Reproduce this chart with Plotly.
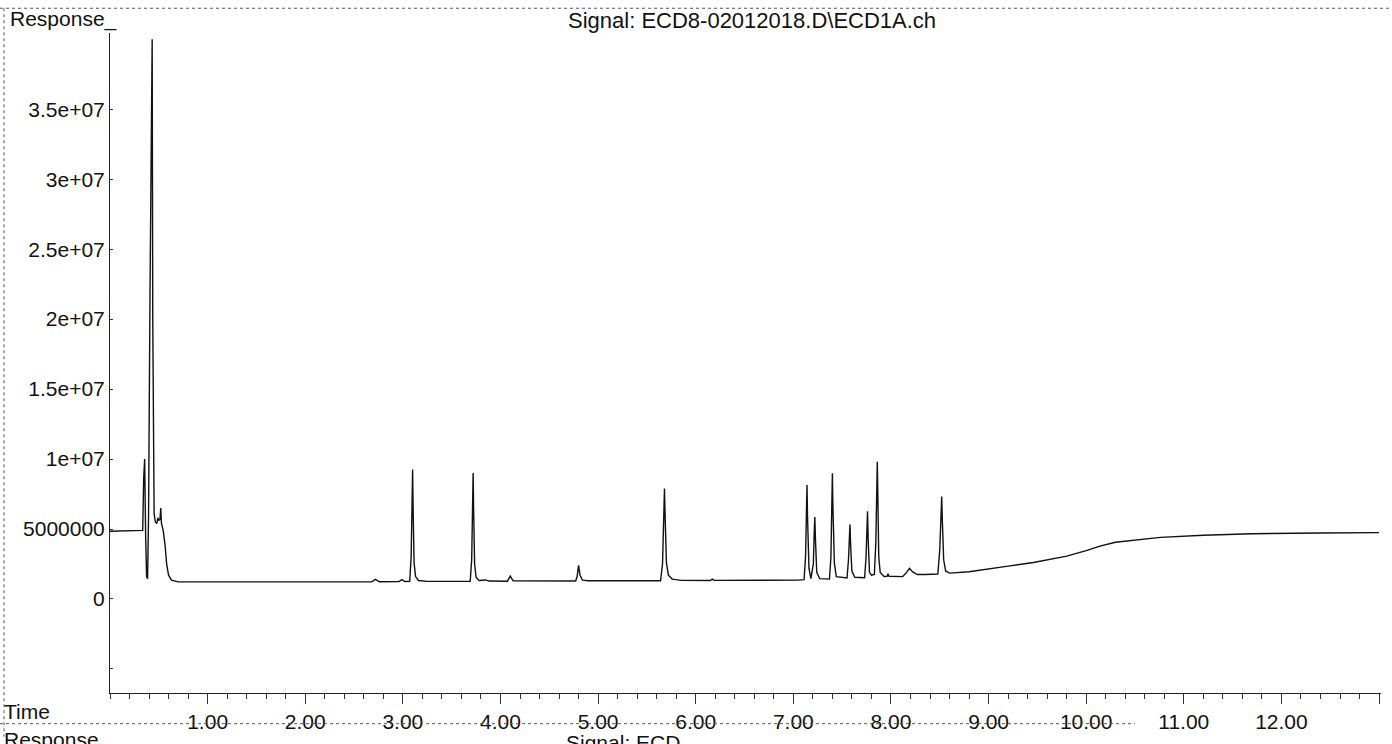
import plotly.graph_objects as go

# ECD chromatogram, signal ECD1A
time_min = [
    0.00, 0.20, 0.335, 0.345, 0.355, 0.365, 0.375, 0.385, 0.395, 0.41,
    0.425, 0.432, 0.438, 0.445, 0.452, 0.465, 0.48, 0.49, 0.50, 0.512,
    0.52, 0.527, 0.545, 0.565, 0.58, 0.60, 0.63, 0.70, 1.50, 2.00,
    2.68, 2.72, 2.76, 2.96, 2.99, 3.02,
    3.07, 3.085, 3.095, 3.10, 3.105, 3.115, 3.13, 3.16, 3.25,
    3.69, 3.705, 3.715, 3.72, 3.725, 3.735, 3.75, 3.78, 3.85, 3.88,
    4.07, 4.10, 4.13,
    4.77, 4.785, 4.80, 4.815, 4.84, 4.90,
    5.64, 5.66, 5.672, 5.68, 5.687, 5.70, 5.72, 5.76, 5.85,
    6.15, 6.17, 6.19, 7.05,
    7.11, 7.125, 7.135, 7.14, 7.145, 7.16, 7.18,
    7.205, 7.215, 7.22, 7.227, 7.24, 7.27,
    7.37, 7.385, 7.395, 7.40, 7.405, 7.42, 7.44,
    7.55, 7.565, 7.575, 7.58, 7.587, 7.60, 7.63,
    7.73, 7.745, 7.755, 7.76, 7.767, 7.78, 7.80,
    7.83, 7.845, 7.855, 7.86, 7.866, 7.875, 7.89, 7.93,
    7.96, 7.97, 7.98,
    8.12, 8.16, 8.19, 8.22, 8.27, 8.35,
    8.48, 8.50, 8.513, 8.52, 8.527, 8.54, 8.56, 8.60,
    8.80, 9.00, 9.20, 9.46, 9.80, 10.00, 10.14, 10.30, 10.50, 10.76,
    11.20, 11.70, 12.40, 13.00,
]
response = [
    4.84e6, 4.86e6, 4.9e6, 8.6e6, 1.0e7, 4.5e6, 1.6e6, 1.45e6, 6.0e6, 2.2e7,
    3.6e7, 4.0e7, 2.0e7, 8.0e6, 6.1e6, 5.5e6, 5.4e6, 5.8e6, 5.6e6, 5.7e6,
    6.5e6, 5.4e6, 4.9e6, 3.8e6, 2.5e6, 1.7e6, 1.35e6, 1.22e6, 1.2e6, 1.22e6,
    1.22e6, 1.4e6, 1.23e6, 1.24e6, 1.38e6, 1.25e6,
    1.26e6, 3.0e6, 7.5e6, 9.25e6, 6.5e6, 2.6e6, 1.6e6, 1.32e6, 1.26e6,
    1.26e6, 2.8e6, 7.0e6, 9.0e6, 6.3e6, 2.5e6, 1.55e6, 1.32e6, 1.36e6, 1.28e6,
    1.27e6, 1.63e6, 1.29e6,
    1.28e6, 1.6e6, 2.4e6, 1.7e6, 1.35e6, 1.3e6,
    1.3e6, 2.5e6, 6.0e6, 7.9e6, 5.8e6, 2.6e6, 1.7e6, 1.42e6, 1.33e6,
    1.32e6, 1.42e6, 1.33e6, 1.35e6,
    1.38e6, 3.0e6, 6.5e6, 8.14e6, 6.0e6, 2.2e6, 1.45e6,
    2.5e6, 5.0e6, 5.86e6, 4.2e6, 1.9e6, 1.45e6,
    1.42e6, 3.0e6, 7.0e6, 8.98e6, 6.8e6, 2.6e6, 1.6e6,
    1.5e6, 2.8e6, 4.8e6, 5.33e6, 3.8e6, 2.0e6, 1.55e6,
    1.52e6, 3.0e6, 5.5e6, 6.26e6, 4.2e6, 1.9e6, 1.7e6,
    1.75e6, 4.0e6, 8.0e6, 9.81e6, 7.2e6, 3.0e6, 1.9e6, 1.6e6,
    1.62e6, 1.8e6, 1.62e6,
    1.6e6, 1.9e6, 2.19e6, 1.95e6, 1.75e6, 1.75e6,
    1.78e6, 3.5e6, 6.5e6, 7.32e6, 5.5e6, 2.8e6, 2.0e6, 1.85e6,
    1.95e6, 2.17e6, 2.35e6, 2.61e6, 3.06e6, 3.45e6, 3.78e6, 4.05e6, 4.22e6, 4.40e6,
    4.55e6, 4.66e6, 4.72e6, 4.74e6,
]

x_tickvals = [1, 2, 3, 4, 5, 6, 7, 8, 9, 10, 11, 12, 13]
x_ticktext = ['1.00', '2.00', '3.00', '4.00', '5.00', '6.00', '7.00',
              '8.00', '9.00', '10.00', '11.00', '12.00', '']
y_tickvals = [-5e6, 0, 5e6, 1e7, 1.5e7, 2e7, 2.5e7, 3e7, 3.5e7]
y_ticktext = ['', '0', '5000000', '1e+07', '1.5e+07', '2e+07',
              '2.5e+07', '3e+07', '3.5e+07']

W, H = 1392, 744
L, R, T, B = 110, 11, 33, 44
FONT = 'Liberation Sans, Arial, sans-serif'


def px(x):
    return (x - L) / (W - L - R)


def py(y):
    return (H - B - y) / (H - T - B)


fig = go.Figure()
fig.add_trace(go.Scatter(
    x=time_min, y=response,
    mode='lines',
    line=dict(color='#111111', width=1.4),
    hoverinfo='x+y',
    showlegend=False,
))

fig.update_layout(
    width=W, height=H,
    margin=dict(l=L, r=R, t=T, b=B),
    paper_bgcolor='white',
    plot_bgcolor='white',
    font=dict(family=FONT, size=21, color='#111111'),
    xaxis=dict(
        range=[0, 13.02],
        tickvals=x_tickvals, ticktext=x_ticktext,
        ticks='outside', ticklen=10, tickcolor='#333333',
        minor=dict(dtick=0.2, tick0=0, ticks='outside', ticklen=5, tickcolor='#333333'),
        showline=True, linecolor='#222222', linewidth=1,
        showgrid=False, zeroline=False,
        tickfont=dict(size=21),
    ),
    yaxis=dict(
        range=[-6.72e6, 4.045e7],
        tickvals=y_tickvals, ticktext=y_ticktext,
        ticks='inside', ticklen=3, tickcolor='#333333',
        showline=True, linecolor='#222222', linewidth=1,
        showgrid=False, zeroline=False,
        tickfont=dict(size=21),
    ),
)

annos = [
    dict(text='Response_', x=px(8), y=py(19), xanchor='left', yanchor='middle'),
    dict(text='Signal: ECD8-02012018.D\\ECD1A.ch', x=px(752), y=py(20),
         xanchor='center', yanchor='middle', font_size=22),
    dict(text='Time', x=px(2), y=py(719), xanchor='left', yanchor='middle'),
    dict(text='Response', x=px(2), y=py(733), xanchor='left', yanchor='top'),
    dict(text='Signal: ECD', x=px(564), y=py(736), xanchor='left', yanchor='top'),
]
for a in annos:
    fs = a.pop('font_size', 21)
    fig.add_annotation(xref='paper', yref='paper', showarrow=False,
                       font=dict(family=FONT, size=fs, color='#111111'), **a)

# dotted frame lines of the printed report
frame = [
    (0, 8, W, 8),
    (4, 8, 4, H),
    (0, 731, 1135, 731),
]
for x0, y0, x1, y1 in frame:
    fig.add_shape(type='line', xref='paper', yref='paper',
                  x0=px(x0), y0=py(y0), x1=px(x1), y1=py(y1),
                  line=dict(color='#555555', width=1, dash='dot'))

fig.write_html('out.html', config={'displayModeBar': False},
               post_script="document.body.style.margin='0';")
